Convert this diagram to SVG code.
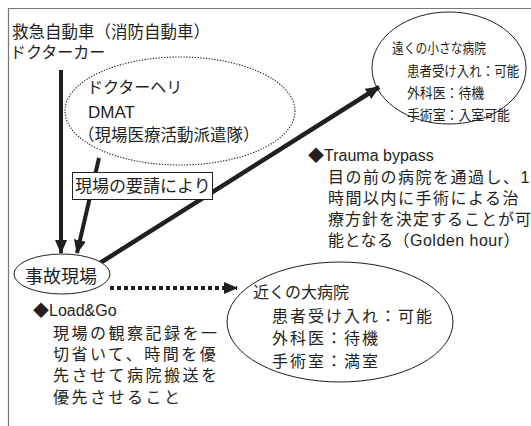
<svg xmlns="http://www.w3.org/2000/svg" width="531" height="426" viewBox="0 0 531 426">
<style>
text{font-family:"Liberation Sans","Noto Sans CJK JP",sans-serif;fill:#231f20}
.t16{font-size:16px}
.t14{font-size:14px}
.ln{fill:none;stroke:#231f20}
</style>
<defs>
<marker id="ah" markerUnits="userSpaceOnUse" markerWidth="14" markerHeight="12" refX="13" refY="6" orient="auto" viewBox="0 0 14 12">
<path d="M0,0 L14,6 L0,12 Z" fill="#231f20"/>
</marker>
</defs>
<rect width="531" height="426" fill="#fff"/>
<path d="M8.5,426 V8.5 H531" fill="none" stroke="#777" stroke-width="1.2"/>

<g id="vehicles">
<text class="t16" x="12" y="38" style="font-size:16.5px">救急自動車（消防自動車）</text>
<text class="t16" x="10" y="58">ドクターカー</text>
</g>

<g id="heli">
<ellipse cx="180" cy="111" rx="115" ry="54" fill="none" stroke="#231f20" stroke-width="1.1" stroke-dasharray="1.3 1.5"/>
<text class="t16" x="87" y="93">ドクターヘリ</text>
<text class="t16" x="88" y="118" style="font-size:17px">DMAT</text>
<text class="t16" x="78" y="141" style="font-size:16.5px">（現場医療活動派遣隊）</text>
</g>

<g id="connectors">
<line class="ln" x1="61" y1="70" x2="61" y2="253" stroke-width="4" marker-end="url(#ah)"/>
<line class="ln" x1="99" y1="158" x2="77" y2="253" stroke-width="4" marker-end="url(#ah)"/>
<line class="ln" x1="100" y1="263" x2="379" y2="87" stroke-width="4.5" marker-end="url(#ah)"/>
<line class="ln" x1="110" y1="288" x2="237" y2="288" stroke-width="4" stroke-dasharray="4 3" marker-end="url(#ah)"/>
</g>

<g id="request-label">
<rect x="72.5" y="172.5" width="140" height="27" fill="#fff" stroke="#231f20" stroke-width="1"/>
<text class="t16" x="75" y="192" style="font-size:17px">現場の要請により</text>
</g>

<g id="scene">
<ellipse cx="62" cy="274" rx="48" ry="20" fill="#fff" stroke="#231f20" stroke-width="1"/>
<text class="t16" x="25" y="283" style="font-size:18px">事故現場</text>
</g>

<g id="far-hospital">
<ellipse cx="449" cy="68" rx="77" ry="56" fill="none" stroke="#231f20" stroke-width="1"/>
<text class="t14" transform="translate(392,53) scale(0.84,1)">遠くの小さな病院</text>
<text class="t14" transform="translate(407,76) scale(0.89,1)">患者受け入れ：可能</text>
<text class="t14" transform="translate(407,98) scale(0.92,1)">外科医：待機</text>
<text class="t14" transform="translate(407,120) scale(0.92,1)">手術室：入室可能</text>
</g>

<g id="trauma-bypass">
<text class="t16" x="308" y="161">◆Trauma bypass</text>
<text class="t16" x="328" y="183" style="letter-spacing:1.5px">目の前の病院を通過し、1</text>
<text class="t16" x="328" y="204" style="letter-spacing:1.5px">時間以内に手術による治</text>
<text class="t16" x="328" y="225" style="letter-spacing:1px">療方針を決定することが可</text>
<text class="t16" x="328" y="246" style="letter-spacing:0.5px">能となる（Golden hour）</text>
</g>

<g id="near-hospital">
<ellipse cx="340" cy="322" rx="113" ry="60" fill="none" stroke="#231f20" stroke-width="1"/>
<text class="t16" x="253" y="298">近くの大病院</text>
<text class="t16" x="272" y="322" style="letter-spacing:2px">患者受け入れ：可能</text>
<text class="t16" x="272" y="344" style="letter-spacing:2px">外科医：待機</text>
<text class="t16" x="272" y="367" style="letter-spacing:2px">手術室：満室</text>
</g>

<g id="load-go">
<text class="t16" x="33" y="316">◆Load&amp;Go</text>
<text class="t16" x="53" y="339" style="letter-spacing:2.5px">現場の観察記録を一</text>
<text class="t16" x="53" y="360" style="letter-spacing:2.5px">切省いて、時間を優</text>
<text class="t16" x="53" y="381" style="letter-spacing:2.5px">先させて病院搬送を</text>
<text class="t16" x="53" y="403" style="letter-spacing:2.5px">優先させること</text>
</g>
</svg>
